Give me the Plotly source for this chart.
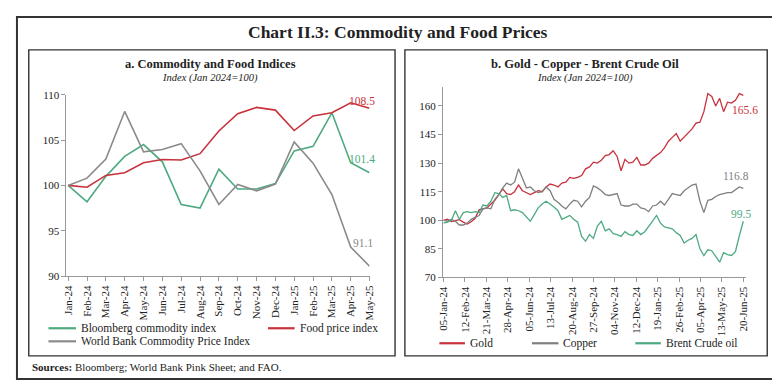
import plotly.graph_objects as go
import pandas as pd

# ---------------- Panel a data (monthly) ----------------
months = ['Jan-24', 'Feb-24', 'Mar-24', 'Apr-24', 'May-24', 'Jun-24', 'Jul-24', 'Aug-24',
          'Sep-24', 'Oct-24', 'Nov-24', 'Dec-24', 'Jan-25', 'Feb-25', 'Mar-25', 'Apr-25', 'May-25']
bloomberg = [100.0, 98.2, 101.0, 103.2, 104.5, 102.6, 97.9, 97.5, 101.8, 99.6, 99.6, 100.2,
             103.8, 104.3, 108.0, 102.5, 101.4]
food_price = [100.0, 99.8, 101.1, 101.4, 102.5, 102.85, 102.8, 103.5, 106.0, 107.9, 108.6, 108.3,
              106.05, 107.65, 108.0, 109.1, 108.5]
world_bank = [100.0, 100.8, 102.9, 108.15, 103.7, 103.95, 104.6, 101.6, 97.9, 100.1, 99.4, 100.15,
              104.8, 102.45, 99.0, 93.2, 91.1]

# ---------------- Panel b data (weekly, Fridays) ----------------
week_dates = pd.date_range('2024-01-05', '2025-06-20', freq='7D')
gold = [100.0, 100.5, 99.3, 99.8, 100.3, 99.0, 98.0, 99.2, 101.0, 105.5, 105.8, 106.5, 108.5,
        110.5, 113.5, 116.5, 114.0, 113.5, 115.0, 118.5, 115.5, 114.5, 113.5, 114.5, 115.5, 115.0,
        117.5, 119.0, 118.5, 117.5, 119.5, 120.0, 122.5, 122.0, 122.5, 123.5, 127.0, 128.0, 130.5,
        130.0, 131.5, 134.0, 134.5, 136.5, 133.5, 126.0, 132.0, 130.0, 130.5, 133.0, 129.0, 129.0,
        130.0, 132.5, 134.0, 135.5, 138.0, 141.5, 143.5, 145.5, 141.5, 143.5, 145.5, 148.0, 151.0,
        151.5, 157.0, 166.5, 165.0, 160.0, 164.0, 157.0, 162.0, 161.5, 163.0, 166.5, 165.6]
copper = [100.0, 99.5, 100.5, 99.5, 97.5, 97.5, 98.5, 100.5, 101.5, 102.5, 106.0, 106.5, 106.0,
          111.0, 113.5, 117.0, 119.5, 118.5, 120.0, 127.0, 122.0, 117.0, 117.5, 115.5, 114.5, 115.0,
          117.5, 115.5, 111.0, 109.5, 107.5, 106.0, 108.5, 110.5, 110.0, 107.0, 110.0, 112.0, 118.0,
          117.0, 115.5, 113.5, 113.0, 113.5, 114.0, 108.0, 107.5, 107.5, 108.5, 108.5, 106.5, 106.0,
          104.5, 107.5, 108.0, 110.0, 108.0, 111.0, 114.0, 113.5, 113.0, 115.5, 117.0, 118.5, 119.0,
          110.0, 104.0, 110.5, 111.0, 112.5, 113.5, 114.0, 114.5, 114.5, 116.0, 117.5, 116.8]
brent = [98.5, 99.0, 100.0, 105.0, 100.5, 104.0, 104.5, 104.0, 104.5, 104.0, 108.0, 107.5, 110.0,
         114.5, 114.0, 112.0, 113.0, 105.0, 105.5, 105.0, 104.0, 101.5, 99.5, 103.0, 106.5, 108.5,
         110.0, 108.5, 107.0, 105.0, 100.5, 101.5, 102.5, 100.5, 99.0, 91.5, 89.0, 92.5, 90.5,
         97.0, 99.5, 94.5, 95.5, 93.0, 92.5, 91.5, 94.0, 92.5, 92.0, 94.5, 92.5, 94.0,
         96.5, 99.5, 102.5, 98.5, 96.5, 96.0, 95.5, 93.5, 92.0, 88.0, 89.5, 90.5, 92.5,
         85.0, 81.5, 84.5, 84.0, 81.0, 78.0, 83.0, 82.0, 81.5, 83.5, 92.0, 99.5]

b_tick_dates = pd.date_range('2024-01-05', periods=15, freq='38D')
b_tick_labels = ['05-Jan-24', '12-Feb-24', '21-Mar-24', '28-Apr-24', '05-Jun-24', '13-Jul-24',
                 '20-Aug-24', '27-Sep-24', '04-Nov-24', '12-Dec-24', '19-Jan-25', '26-Feb-25',
                 '05-Apr-25', '13-May-25', '20-Jun-25']

RED = '#C9313D'
GREEN = '#4DAA80'
GRAY = '#8A8A8A'
FONT = 'Liberation Serif'
W, H = 780, 380


def px(x):
    return x / W


def py(y):
    return 1 - y / H


fig = go.Figure()
fig.add_trace(go.Scatter(x=months, y=bloomberg, mode='lines', line=dict(color=GREEN, width=1.6),
                         xaxis='x', yaxis='y', showlegend=False))
fig.add_trace(go.Scatter(x=months, y=food_price, mode='lines', line=dict(color=RED, width=1.6),
                         xaxis='x', yaxis='y', showlegend=False))
fig.add_trace(go.Scatter(x=months, y=world_bank, mode='lines', line=dict(color=GRAY, width=1.6),
                         xaxis='x', yaxis='y', showlegend=False))

fig.add_trace(go.Scatter(x=week_dates, y=gold, mode='lines', line=dict(color=RED, width=1.3),
                         xaxis='x2', yaxis='y2', showlegend=False))
fig.add_trace(go.Scatter(x=week_dates, y=copper, mode='lines', line=dict(color='#7F7F7F', width=1.3),
                         xaxis='x2', yaxis='y2', showlegend=False))
fig.add_trace(go.Scatter(x=week_dates, y=brent, mode='lines', line=dict(color=GREEN, width=1.3),
                         xaxis='x2', yaxis='y2', showlegend=False))

axis_common = dict(showline=True, linecolor='#999999', linewidth=1, ticks='outside', ticklen=4,
                   tickcolor='#999999', showgrid=False, zeroline=False,
                   tickfont=dict(family=FONT, size=11, color='#222222'))

fig.update_layout(
    width=W, height=H, margin=dict(l=0, r=0, t=0, b=0),
    paper_bgcolor='white', plot_bgcolor='white',
    font=dict(family=FONT, color='#222222'),
    xaxis=dict(domain=[px(53.3), px(361.1)], type='category', range=[-0.09, 16.0],
               tickangle=-90, anchor='y', **axis_common),
    yaxis=dict(domain=[py(270.7), py(83.3)], range=[90, 110], dtick=5, anchor='x', **axis_common),
    xaxis2=dict(domain=[px(435.7), px(743)], type='date', range=['2024-01-04', '2025-06-24'],
                tickvals=b_tick_dates, ticktext=b_tick_labels, tickangle=-90, anchor='y2',
                **axis_common),
    yaxis2=dict(domain=[py(272), py(75.3)], range=[70, 170], tickvals=[70, 85, 100, 115, 130, 145, 160],
                anchor='x2', **axis_common),
)

shapes = []
# outer frame and panel boxes
shapes.append(dict(type='rect', xref='paper', yref='paper', x0=px(3), x1=px(777), y0=py(377), y1=py(3),
                   line=dict(color='#333333', width=2)))
shapes.append(dict(type='rect', xref='paper', yref='paper', x0=px(15), x1=px(387), y0=py(353), y1=py(37),
                   line=dict(color='#333333', width=1.4)))
shapes.append(dict(type='rect', xref='paper', yref='paper', x0=px(397), x1=px(765), y0=py(353), y1=py(37),
                   line=dict(color='#333333', width=1.4)))

# legend samples
legend_items = [
    (35, 63, 324.5, GREEN, 'Bloomberg commodity index'),
    (258, 285, 324.5, RED, 'Food price index'),
    (35, 63, 338, GRAY, 'World Bank Commodity Price Index'),
    (432, 458, 340, RED, 'Gold'),
    (526, 553, 340, '#7F7F7F', 'Copper'),
    (631, 657, 340, GREEN, 'Brent Crude oil'),
]
annotations = []
for x0, x1, yy, col, label in legend_items:
    shapes.append(dict(type='line', xref='paper', yref='paper', x0=px(x0), x1=px(x1), y0=py(yy), y1=py(yy),
                       line=dict(color=col, width=2.2)))
    annotations.append(dict(text=label, xref='paper', yref='paper', x=px(x1 + 3), y=py(yy),
                            xanchor='left', yanchor='middle', showarrow=False,
                            font=dict(family=FONT, size=11.5, color='#222222')))

fig.update_layout(shapes=shapes)

texts = [
    ('<b>Chart II.3: Commodity and Food Prices</b>', 390, 19, 17.5),
    ('<b>a. Commodity and Food Indices</b>', 200, 52, 12.5),
    ('<i>Index (Jan 2024=100)</i>', 199, 66, 10.5),
    ('<b>b. Gold - Copper - Brent Crude Oil</b>', 580, 52, 12.5),
    ('<i>Index (Jan 2024=100)</i>', 580, 66, 10.5),
]
for t, x, y, s in texts:
    annotations.append(dict(text=t, xref='paper', yref='paper', x=px(x), y=py(y), xanchor='center',
                            yanchor='middle', showarrow=False, font=dict(family=FONT, size=s, color='#222222')))
annotations.append(dict(text='<b>Sources:</b> Bloomberg; World Bank Pink Sheet; and FAO.', xref='paper',
                        yref='paper', x=px(16), y=py(364), xanchor='left', yanchor='middle', showarrow=False,
                        font=dict(family=FONT, size=11, color='#222222')))

# end-value labels tied to the data
end_labels = [
    ('x', 'y', months[-1], food_price[-1], f'{food_price[-1]:.1f}', RED, -8, 7),
    ('x', 'y', months[-1], bloomberg[-1], f'{bloomberg[-1]:.1f}', GREEN, -8, 14),
    ('x', 'y', months[-1], world_bank[-1], f'{world_bank[-1]:.1f}', GRAY, -7, 23),
    ('x2', 'y2', week_dates[-1], gold[-1], f'{gold[-1]:.1f}', RED, 2, -15),
    ('x2', 'y2', week_dates[-1], copper[-1], f'{copper[-1]:.1f}', '#7F7F7F', -7, 12),
    ('x2', 'y2', week_dates[-1], brent[-1], f'{brent[-1]:.1f}', GREEN, -2, 7),
]
for xr, yr, x, y, t, col, dx, dy in end_labels:
    annotations.append(dict(text=t, xref=xr, yref=yr, x=x, y=y, xshift=dx, yshift=dy, xanchor='center',
                            yanchor='middle', showarrow=False, font=dict(family=FONT, size=11.5, color=col)))

fig.update_layout(annotations=annotations)
fig.write_html('out.html')
